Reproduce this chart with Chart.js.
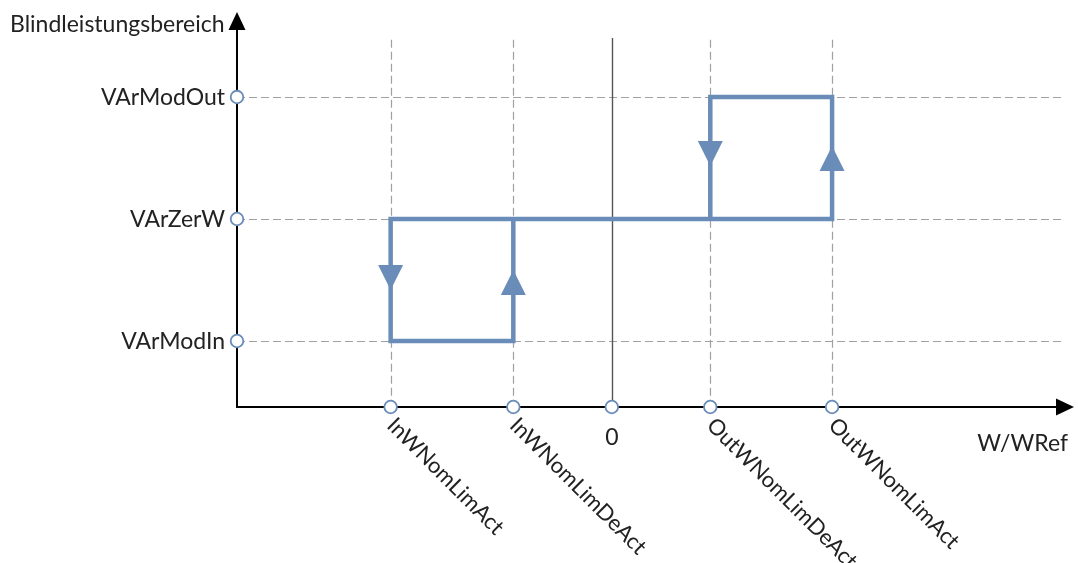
<!DOCTYPE html>
<html>
<head>
<meta charset="utf-8">
<script src="https://cdn.jsdelivr.net/npm/chart.js@4"></script>
<style>
html,body{margin:0;padding:0;background:#fff;}
#wrap{width:1078px;height:563px;}
</style>
</head>
<body>
<div id="wrap"><canvas id="c" width="1078" height="563"></canvas></div>
<script>
// ---- data ----
const xTickLabels = ["InWNomLimAct", "InWNomLimDeAct", "0", "OutWNomLimDeAct", "OutWNomLimAct"];
const xTickValues = [-1.235, -0.55, 0, 0.55, 1.23];
const yTickLabels = ["VArModIn", "VArZerW", "VArModOut"];
const yTickValues = [-1, 0, 1];
// hysteresis path (W/WRef, reactive power level)
const pathX = [-0.55, -0.55, -1.235, -1.235, 1.23, 1.23, 0.55, 0.55];
const pathY = [0, -1, -1, 0, 0, 1, 1, 0];
// direction arrows on the vertical segments (tip position, direction)
const arrowX = [-1.235, -0.55, 0.55, 1.23];
const arrowTipY = [-0.582, -0.418, 0.434, 0.598];
const arrowDir = [-1, 1, -1, 1];
const yAxisTitle = "Blindleistungsbereich";
const xAxisTitle = "W/WRef";

const BLUE = '#6a8cb8';
const FONT = '23px Lato';
const FONT_ROT = '22px Lato';

const pathData = pathX.map((x, i) => ({x, y: pathY[i]}));

const decor = {
  id: 'decor',
  beforeDatasetsDraw(chart) {
    const {ctx, chartArea: ca, scales: {x, y}} = chart;
    const gridTop = y.getPixelForValue(1.47);
    const gridRight = x.getPixelForValue(2.525);
    ctx.save();
    ctx.strokeStyle = '#a0a0a0';
    ctx.lineWidth = 1.2;
    ctx.setLineDash([8, 4]);
    yTickValues.forEach(v => {
      const py = Math.round(y.getPixelForValue(v)) + 0.5;
      ctx.beginPath(); ctx.moveTo(ca.left, py); ctx.lineTo(gridRight, py); ctx.stroke();
    });
    xTickValues.forEach((v, i) => {
      if (v === 0) return;
      const px = Math.round(x.getPixelForValue(v)) + 0.5;
      ctx.beginPath(); ctx.moveTo(px, gridTop); ctx.lineTo(px, ca.bottom); ctx.stroke();
    });
    ctx.setLineDash([]);
    // solid zero line
    const p0 = Math.round(x.getPixelForValue(0)) + 0.5;
    ctx.strokeStyle = '#555';
    ctx.lineWidth = 1.4;
    ctx.beginPath(); ctx.moveTo(p0, y.getPixelForValue(1.484)); ctx.lineTo(p0, ca.bottom); ctx.stroke();
    ctx.restore();
  },
  afterDatasetsDraw(chart) {
    const {ctx, chartArea: ca, scales: {x, y}} = chart;
    const ax = x.getPixelForValue(x.min);
    const ay = y.getPixelForValue(y.min);
    const rx = x.getPixelForValue(x.max);
    ctx.save();
    // direction arrows
    ctx.fillStyle = BLUE;
    arrowX.forEach((v, i) => {
      const px = x.getPixelForValue(v);
      const ty = y.getPixelForValue(arrowTipY[i]);
      const by = ty + arrowDir[i] * 25;
      ctx.beginPath();
      ctx.moveTo(px, ty); ctx.lineTo(px - 12.5, by); ctx.lineTo(px + 12.5, by); ctx.closePath(); ctx.fill();
    });
    // axes
    ctx.strokeStyle = '#000';
    ctx.fillStyle = '#000';
    ctx.lineWidth = 2;
    ctx.beginPath();
    ctx.moveTo(ax, ca.top + 16); ctx.lineTo(ax, ay); ctx.lineTo(rx - 16, ay);
    ctx.stroke();
    // y arrow
    ctx.beginPath();
    ctx.moveTo(ax, ca.top); ctx.lineTo(ax - 8.5, ca.top + 18); ctx.lineTo(ax + 8.5, ca.top + 18); ctx.closePath(); ctx.fill();
    // x arrow
    ctx.beginPath();
    ctx.moveTo(rx, ay); ctx.lineTo(rx - 18, ay - 8.5); ctx.lineTo(rx - 18, ay + 8.5); ctx.closePath(); ctx.fill();

    // tick circles
    ctx.strokeStyle = BLUE;
    ctx.fillStyle = '#fff';
    ctx.lineWidth = 1.8;
    const circ = (cx, cy) => { ctx.beginPath(); ctx.arc(cx, cy, 6.3, 0, Math.PI * 2); ctx.fill(); ctx.stroke(); };
    yTickValues.forEach(v => circ(ax, y.getPixelForValue(v)));
    xTickValues.forEach(v => circ(x.getPixelForValue(v), ay));

    // labels
    ctx.fillStyle = '#222';
    ctx.font = FONT;
    ctx.textAlign = 'right';
    ctx.textBaseline = 'middle';
    yTickValues.forEach((v, i) => ctx.fillText(yTickLabels[i], ax - 12, y.getPixelForValue(v) + 1));
    xTickValues.forEach((v, i) => {
      const px = x.getPixelForValue(v);
      if (xTickLabels[i] === '0') {
        ctx.font = FONT;
        ctx.textAlign = 'center'; ctx.textBaseline = 'middle';
        ctx.fillText('0', px, ay + 31);
      } else {
        ctx.save();
        ctx.font = FONT_ROT;
        ctx.translate(px + 8, ay + 7);
        ctx.rotate(Math.PI / 4);
        ctx.textAlign = 'left'; ctx.textBaseline = 'top';
        ctx.fillText(xTickLabels[i], 0, 0);
        ctx.restore();
      }
    });
    ctx.font = FONT;
    ctx.textAlign = 'left'; ctx.textBaseline = 'middle';
    ctx.fillText(yAxisTitle, 10, 25);
    ctx.textAlign = 'right';
    ctx.fillText(xAxisTitle, 1068, 444);
    ctx.restore();
  }
};

new Chart(document.getElementById('c'), {
  type: 'scatter',
  data: {
    datasets: [
      {
        data: pathData, showLine: true, borderColor: BLUE, borderWidth: 4.5,
        borderJoinStyle: 'miter', borderCapStyle: 'butt',
        pointRadius: 0, pointHoverRadius: 0, tension: 0, clip: false
      }
    ]
  },
  options: {
    responsive: false,
    animation: false,
    events: [],
    layout: {padding: {left: 237, right: 4, top: 12, bottom: 156}},
    plugins: {legend: {display: false}, tooltip: {enabled: false}},
    scales: {
      x: {type: 'linear', display: false, min: -2.093, max: 2.581},
      y: {type: 'linear', display: false, min: -1.541, max: 1.697}
    }
  },
  plugins: [decor]
});
</script>
</body>
</html>
